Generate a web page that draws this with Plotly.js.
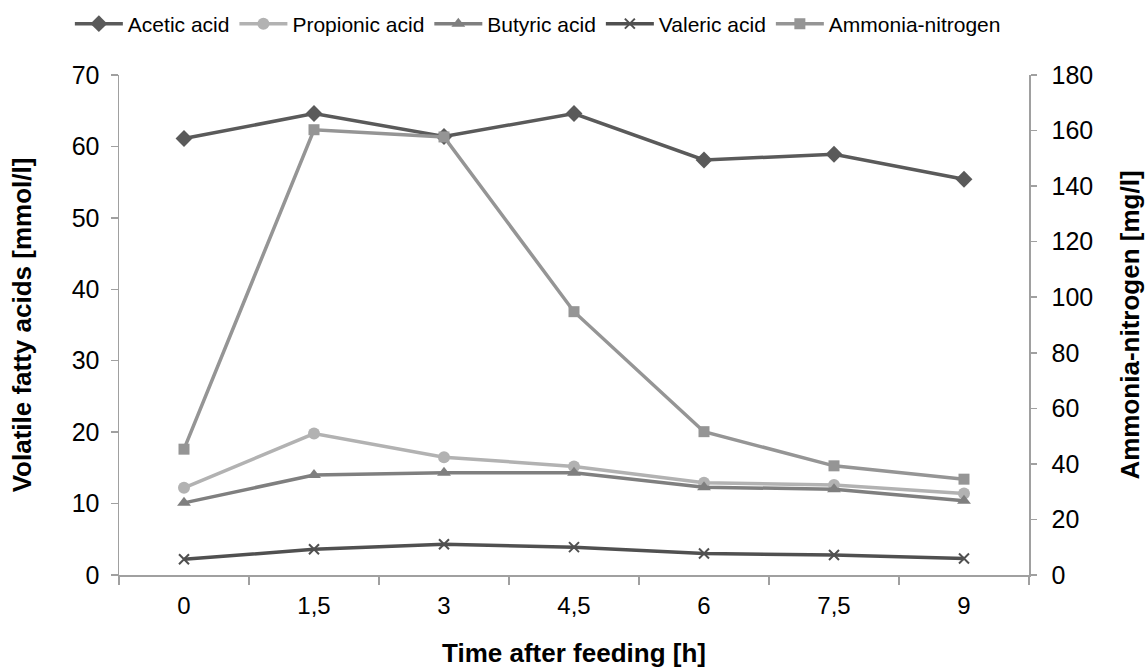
<!DOCTYPE html>
<html>
<head>
<meta charset="utf-8">
<script src="https://cdn.plot.ly/plotly-3.0.1.min.js"></script>
<style>html,body{margin:0;padding:0;background:#fff;}#chart{width:1145px;height:668px;}</style>
</head>
<body>
<div id="chart"></div>
<script>
const categories = ["0", "1,5", "3", "4,5", "6", "7,5", "9"];
const acetic = [61.1, 64.6, 61.4, 64.6, 58.1, 58.9, 55.4];
const propionic = [12.2, 19.8, 16.5, 15.2, 12.9, 12.6, 11.4];
const butyric = [10.1, 14.0, 14.3, 14.3, 12.3, 12.0, 10.4];
const valeric = [2.2, 3.6, 4.3, 3.9, 3.0, 2.8, 2.3];
const ammonia = [45.3, 160.3, 157.7, 94.8, 51.6, 39.3, 34.5];

const font = "Liberation Sans, Arial, sans-serif";

function tr(name, y, color, symbol, size, axis) {
  return {
    x: categories, y: y, name: name, type: "scatter", mode: "lines+markers",
    yaxis: axis || "y",
    line: {color: color, width: 3.5},
    marker: {symbol: symbol, size: size, color: color, line: {color: color, width: symbol === "x-thin" ? 2 : 0}},
    hoverinfo: "skip"
  };
}

const data = [
  tr("Acetic acid", acetic, "#5a5a5a", "diamond", 13),
  tr("Propionic acid", propionic, "#b2b2b2", "circle", 12),
  tr("Butyric acid", butyric, "#7f7f7f", "triangle-up", 12),
  tr("Valeric acid", valeric, "#505050", "x-thin", 10),
  tr("Ammonia-nitrogen", ammonia, "#959595", "square", 11, "y2")
];

const axisColor = "#a0a0a0";
const layout = {
  width: 1145, height: 668,
  margin: {l: 119, r: 116, t: 75, b: 93, pad: 0, autoexpand: false},
  paper_bgcolor: "#fff", plot_bgcolor: "#fff",
  font: {family: font, color: "#000", size: 24},
  showlegend: true,
  legend: {orientation: "h", x: -0.054, xanchor: "left", y: 1.102, yanchor: "middle",
           font: {family: font, size: 21, color: "#000"}, traceorder: "normal",
           itemwidth: 48},
  xaxis: {
    type: "category", range: [-0.5, 6.5], tickson: "boundaries",
    ticks: "outside", ticklen: 8, tickcolor: axisColor, tickwidth: 1.5,
    showline: true, linecolor: axisColor, linewidth: 1.5,
    showgrid: false, zeroline: false, automargin: false,
    tickfont: {family: font, size: 24}, ticklabelstandoff: 9,
    title: {text: "<b>Time after feeding [h]</b>", font: {family: font, size: 26}, standoff: 28}
  },
  yaxis: {
    range: [0, 70], dtick: 10, ticks: "outside", ticklen: 7, tickcolor: axisColor, tickwidth: 1.5,
    showline: true, linecolor: axisColor, linewidth: 1.5,
    showgrid: false, zeroline: false, automargin: false,
    tickfont: {family: font, size: 25}, ticklabelstandoff: 6,
    title: {text: "<b>Volatile fatty acids [mmol/l]</b>", font: {family: font, size: 26}, standoff: 32}
  },
  yaxis2: {
    overlaying: "y", side: "right",
    range: [0, 180], dtick: 20, ticks: "outside", ticklen: 6, tickcolor: axisColor, tickwidth: 1.5,
    showline: true, linecolor: axisColor, linewidth: 1.5,
    showgrid: false, zeroline: false, automargin: false,
    tickfont: {family: font, size: 25}, ticklabelstandoff: 10,
    title: {text: "<b>Ammonia-nitrogen [mg/l]</b>", font: {family: font, size: 26}, standoff: 30}
  }
};

Plotly.newPlot("chart", data, layout, {displayModeBar: false, staticPlot: true});
</script>
</body>
</html>
